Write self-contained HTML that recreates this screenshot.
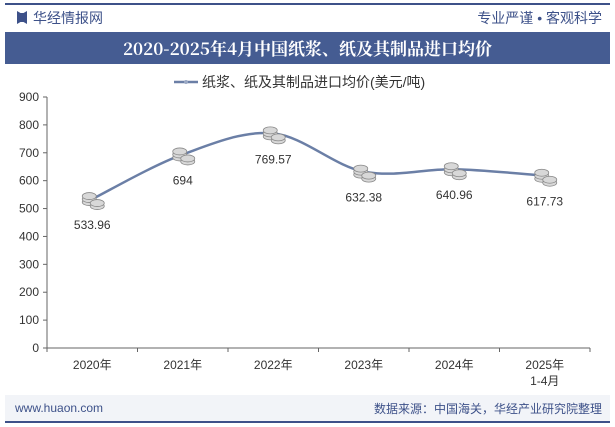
<!DOCTYPE html>
<html><head><meta charset="utf-8"><style>
body{margin:0;width:615px;height:427px;background:#fff;font-family:"Liberation Sans","Noto Sans CJK SC",sans-serif;overflow:hidden;position:relative}
.abs{position:absolute}
</style></head><body>
<div class="abs" style="left:5px;top:3px;width:605px;height:2px;background:#3d5189"></div>
<div class="abs" style="left:17px;top:11px;width:10px;height:13px;background:#3d5189;clip-path:polygon(0 0,35% 15%,65% 15%,100% 0,100% 100%,65% 85%,35% 85%,0 100%)"></div>
<div class="abs" style="left:33px;top:8px;font-size:14px;color:#3d5189">华经情报网</div>
<div class="abs" style="right:13px;top:8px;font-size:14px;color:#3d5189">专业严谨 • 客观科学</div>
<div class="abs" style="left:5px;top:32px;width:605px;height:32px;background:#455c92;color:#fff;font-family:'Noto Serif CJK SC','Liberation Serif',serif;font-weight:bold;font-size:17px;line-height:32px;text-align:center">2020-2025年4月中国纸浆、纸及其制品进口均价</div>
<svg class="abs" style="left:0;top:0" width="615" height="427">
<g><line x1="174" y1="82" x2="198" y2="82" stroke="#6b7fa6" stroke-width="2.5"/><circle cx="186" cy="82" r="2" fill="#9aa8c4"/>
<text x="202" y="87" font-size="14" fill="#333">纸浆、纸及其制品进口均价(美元/吨)</text></g>
<g id="axes"></g><g id="marks"></g>
</svg>
<div class="abs" style="left:5px;top:395px;width:605px;height:26px;background:#f2f4f8"></div>
<div class="abs" style="left:15px;top:401px;font-size:12px;color:#3d5189">www.huaon.com</div>
<div class="abs" style="right:13px;top:400px;font-size:12px;color:#3d5189">数据来源：中国海关，华经产业研究院整理</div>
<div class="abs" style="left:5px;top:421px;width:605px;height:2px;background:#3d5189"></div>
<script>
const categories=["2020年","2021年","2022年","2023年","2024年","2025年"];
const values=[533.96,694,769.57,632.38,640.96,617.73];
const labels=["533.96","694","769.57","632.38","640.96","617.73"];
const yTicks=[0,100,200,300,400,500,600,700,800,900];
const NS="http://www.w3.org/2000/svg";
const x0=47,x1=590,yb=348,yt=97;
const bw=(x1-x0)/categories.length;
const X=i=>x0+bw*(i+0.5);
const Y=v=>yb-(v/900)*(yb-yt);
function mk(t,a,p){const e=document.createElementNS(NS,t);for(const k in a)e.setAttribute(k,a[k]);p.appendChild(e);return e;}
const ax=document.getElementById('axes'),mg=document.getElementById('marks');
const yl=mk('line',{x1:x0,y1:yt,x2:x0,y2:yb,stroke:'#666'},ax);


const xl=mk('line',{x1:x0,y1:yb,x2:x1,y2:yb,stroke:'#666'},ax);


yTicks.forEach(v=>{mk('line',{x1:x0-4,y1:Y(v),x2:x0,y2:Y(v),stroke:'#666'},ax);
const t=mk('text',{x:x0-8,y:Y(v)+4,'text-anchor':'end','font-size':12,fill:'#333'},ax);t.textContent=v;

});
for(let i=0;i<=categories.length;i++)mk('line',{x1:x0+bw*i,y1:yb,x2:x0+bw*i,y2:yb+4,stroke:'#666'},ax);
categories.forEach((c,i)=>{const t=mk('text',{x:X(i),y:yb+21,'text-anchor':'middle','font-size':12,fill:'#333'},ax);t.textContent=c;


if(i==categories.length-1){const t2=mk('text',{x:X(i),y:yb+37,'text-anchor':'middle','font-size':12,fill:'#333'},ax);t2.textContent="1-4月";}});
const P=values.map((v,i)=>[X(i),Y(v)]);
let d=`M${P[0][0]},${P[0][1]}`;
for(let i=0;i<P.length-1;i++){const p0=P[Math.max(0,i-1)],p1=P[i],p2=P[i+1],p3=P[Math.min(P.length-1,i+2)];
d+=` C${p1[0]+(p2[0]-p0[0])/6},${p1[1]+(p2[1]-p0[1])/6} ${p2[0]-(p3[0]-p1[0])/6},${p2[1]-(p3[1]-p1[1])/6} ${p2[0]},${p2[1]}`;}
const ln=mk('path',{d:d,fill:'none',stroke:'#6b7fa6','stroke-width':2.5},mg);


P.forEach((p,i)=>{const g=mk('g',{},mg);


[[-3,3],[-3,0],[-3,-3],[5,7],[5,4]].forEach(o=>mk('ellipse',{cx:p[0]+o[0],cy:p[1]+o[1],rx:7,ry:3.5,fill:'#d8d8d8',stroke:'#888','stroke-width':0.8},g));
const t=mk('text',{x:p[0],y:p[1]+30,'text-anchor':'middle','font-size':12,fill:'#333'},g);t.textContent=labels[i];});
</script>
</body></html>
